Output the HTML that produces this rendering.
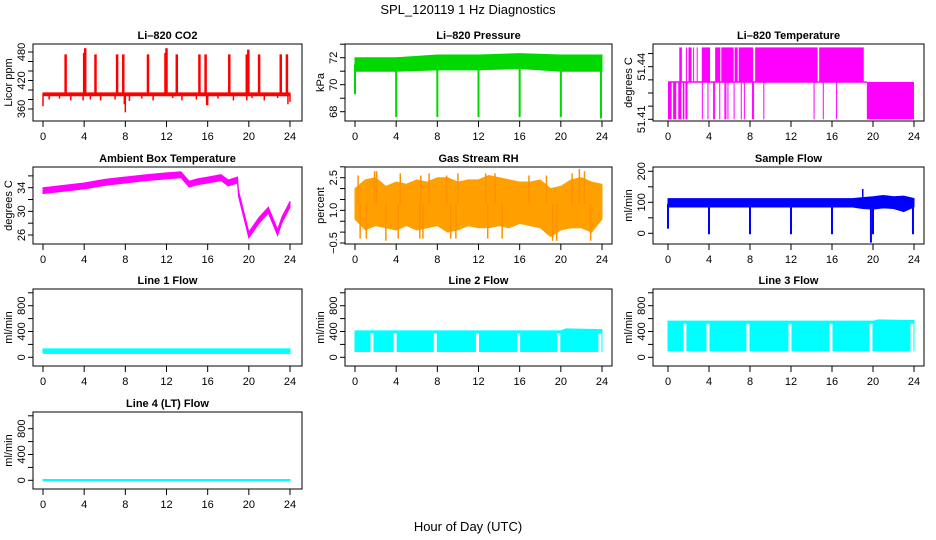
<!DOCTYPE html>
<html><head><meta charset="utf-8"><style>
html,body{margin:0;padding:0;background:#fff;}
svg{display:block;font-family:"Liberation Sans",Arial,sans-serif;}
</style></head><body>
<svg id="fig" width="936" height="540" viewBox="0 0 936 540" xmlns="http://www.w3.org/2000/svg">
<rect x="0" y="0" width="936" height="540" fill="#fff"/>
<text x="468" y="14" font-size="13" text-anchor="middle">SPL_120119  1 Hz Diagnostics</text>
<text x="468" y="531" font-size="13" text-anchor="middle">Hour of Day (UTC)</text>
</svg>
<script>
// ---------- data ----------
const hourTicks=[0,4,8,12,16,20,24];
// CO2
const co2Lo=[388,388];const co2Hi=[394,394];const co2BandT=[0,24];
const co2UpT=[2.2,4.0,4.1,5.1,7.2,7.8,10.2,11.9,12.0,13.0,15.2,15.8,18.1,19.8,19.95,21.0,23.1,23.7];
const co2UpV=[475,478,488,475,475,475,475,478,488,475,475,475,475,475,485,475,475,475];
const co2DnT=[0,0.6,1.6,2.7,3.9,4.6,5.6,7.0,7.9,8.0,8.4,9.6,10.7,12.6,13.5,14.9,15.9,16.0,17.0,18.5,19.8,20.3,21.5,22.8,23.8,24.0];
const co2DnV=[366,380,382,378,378,380,378,380,370,353,377,382,378,383,378,380,368,368,382,378,378,383,378,383,370,375];
// Pressure
const presT=[0,4,8,12,16,20,24];
const presLo=[71.0,71.0,71.1,71.1,71.2,71.0,71.0];
const presHi=[72.0,72.0,72.2,72.2,72.3,72.2,72.2];
const presDnT=[0,4,8,12,16,20,23.9];
const presDnV=[69.3,67.6,67.6,67.6,67.6,67.6,67.5];
// Li-820 temperature (levels)
const tempLevels=[51.41,51.4313,51.451];
const tempUpStart=[1.1,1.75,2.0,2.45,2.8,3.3,4.6,5.2,6.5,6.9,8.5,14.75];
const tempUpEnd=[1.35,1.8,2.3,2.5,2.85,4.1,5.1,6.4,6.8,8.3,14.6,19.1];
const tempDnStart=[0,0.5,1.0,1.45,1.7,3.3,3.85,4.4,4.5,5.0,5.5,5.6,5.8,6.4,7.1,7.4,8.2,8.3,9.3,14.2,15.1,16.4,19.4];
const tempDnEnd=[0.35,0.8,1.3,1.6,1.9,3.3,3.85,4.4,4.5,5.0,5.5,5.6,5.8,6.4,7.1,7.4,8.2,8.3,9.3,14.2,15.1,16.4,24];
// Ambient box temperature
const ambT=[0,2,4,6,8,10,12,13.4,14.2,15,16,17.3,18,18.9,19.0,20,21,21.9,22.8,23.2,24];
const ambV=[33.5,33.9,34.3,34.9,35.3,35.7,36.0,36.2,34.6,35.0,35.3,35.7,34.8,35.3,33.0,26.0,28.5,30.2,26.4,28.5,31.2];
// Gas stream RH
const rhT=[0,1,2,3,4,5,6,7,8,9,10,11,12,13,14,15,16,17,18,19,20,21,22,23,24];
const rhHi=[2.0,2.4,2.5,2.1,2.3,2.2,2.4,2.3,2.5,2.5,2.3,2.4,2.4,2.6,2.5,2.4,2.3,2.3,2.4,2.0,2.1,2.4,2.5,2.3,2.2];
const rhLo=[0.6,0.1,0.3,0.2,0.1,0.3,0.1,0.2,0.3,0.0,0.1,0.3,0.2,0.2,0.3,0.2,0.4,0.3,0.2,-0.2,0.1,0.2,0.2,0.0,0.6];
const rhUpT=[0.3,1.9,2.1,4.4,6.4,7.2,8.9,10.0,12.7,13.6,16.9,18.6,21.1,21.8,22.3];
const rhUpV=[2.6,2.8,2.8,2.7,2.6,2.7,2.6,2.7,2.7,2.7,2.6,2.6,2.7,2.9,2.8];
const rhDnT=[0.5,1.1,3.0,4.2,6.3,6.6,9.3,9.8,12.9,14.3,19.2,19.6,22.9];
const rhDnV=[-0.3,-0.3,-0.4,-0.3,-0.3,-0.3,-0.3,-0.3,-0.3,-0.3,-0.4,-0.4,-0.4];
// Sample flow
const sfT=[0,18,19,20,21,22,23,24];
const sfHi=[112,112,115,118,122,118,120,112];
const sfLo=[85,85,80,78,82,80,70,85];
const sfDnT=[0,4,8,12,16,19.8,20,23.9];
const sfDnV=[15,-3,-3,-3,-3,-30,-3,-3];
const sfUpT=[19.0];const sfUpV=[143];
// Line flows
const flowGaps=[1.65,3.9,7.8,11.9,15.9,19.8,23.8];
const l1T=[0,24];const l1Lo=[60,60];const l1Hi=[130,130];
const l2T=[0,20,20.5,24];const l2Lo=[90,90,90,90];const l2Hi=[410,410,440,430];
const l3T=[0,20,20.5,24];const l3Lo=[100,100,100,100];const l3Hi=[560,560,580,570];
const l4T=[0,24];const l4Lo=[-8,-8];const l4Hi=[12,12];

// ---------- layout ----------
const NS="http://www.w3.org/2000/svg";
const svg=document.getElementById('fig');
const cols=[{b0:33,b1:302,h0:43,h24:290},{b0:345,b1:612,h0:355,h24:602},{b0:653,b1:924,h0:668,h24:914}];
const rowTop=[44,167,289,412];const PH=77;
function add(p,tag,a){const e=document.createElementNS(NS,tag);for(const k in a)e.setAttribute(k,a[k]);p.appendChild(e);return e;}
let clipN=0;
function panel(d){
  const c=cols[d.col],top=rowTop[d.row],bot=top+PH;
  const g=add(svg,'g',{});
  
  
  const sx=h=>c.h0+(h/24)*(c.h24-c.h0);
  const sy=v=>top+d.o0+(v-d.v0)*(d.o1-d.o0)/(d.v1-d.v0);
  const cid='clip'+(clipN++);
  const cp=add(g,'clipPath',{id:cid});add(cp,'rect',{x:c.b0,y:top,width:c.b1-c.b0,height:PH});
  const marks=add(g,'g',{'clip-path':'url(#'+cid+')'});
  
  
  const box=add(g,'rect',{x:c.b0,y:top,width:c.b1-c.b0,height:PH,fill:'none',stroke:'#000','stroke-width':1});
  
  
  const t=add(g,'text',{x:(c.b0+c.b1)/2,y:top-5,'font-size':11,'font-weight':'bold','text-anchor':'middle'});
  t.textContent=d.title;
  
  
  const yl=add(g,'text',{x:0,y:0,'font-size':11,'text-anchor':'middle',transform:`translate(${c.b0-21},${top+PH/2}) rotate(-90)`});
  yl.textContent=d.ylab;
  
  
  hourTicks.forEach(h=>{
    const ln=add(g,'line',{x1:sx(h),x2:sx(h),y1:bot,y2:bot+6,stroke:'#000'});
    
    
    const tx=add(g,'text',{x:sx(h),y:bot+19,'font-size':11,'text-anchor':'middle'});
    tx.textContent=String(h);
    
    
  });
  d.ticks.forEach(v=>{
    const y=sy(v);if(y<top-1||y>bot+1)return;
    const ln=add(g,'line',{x1:c.b0-5,x2:c.b0,y1:y,y2:y,stroke:'#000'});
    
    
  });
  d.labels.forEach((v,i)=>{
    const tx=add(g,'text',{x:0,y:0,'font-size':11,'text-anchor':'middle',transform:`translate(${c.b0-8},${sy(v)}) rotate(-90)`});
    tx.textContent=d.labelText?d.labelText[i]:String(v);
    
    
  });
  return {g:marks,sx,sy};
}
function band(P,T,lo,hi,fill,name){
  let pts=T.map((t,i)=>P.sx(t)+','+P.sy(hi[i]));
  for(let i=T.length-1;i>=0;i--)pts.push(P.sx(T[i])+','+P.sy(lo[i]));
  const e=add(P.g,'polygon',{points:pts.join(' '),fill:fill,stroke:fill,'stroke-width':1});
  
  
}
function spikes(P,T,V,base,col,w,name){
  T.forEach((t,i)=>{
    const e=add(P.g,'line',{x1:P.sx(t),x2:P.sx(t),y1:P.sy(base),y2:P.sy(V[i]),stroke:col,'stroke-width':w});
    
    
  });
}
function blocks(P,S,E,a,b,col,name){
  S.forEach((s,i)=>{
    const x0=P.sx(s),x1=Math.max(P.sx(E[i]),x0+1);
    const y0=Math.min(P.sy(a),P.sy(b)),y1=Math.max(P.sy(a),P.sy(b));
    const e=add(P.g,'rect',{x:x0,y:y0,width:x1-x0,height:y1-y0,fill:col});
    
    
  });
}
function gaps(P,G,lo,hi,name){
  G.forEach(t=>{
    const e=add(P.g,'line',{x1:P.sx(t),x2:P.sx(t),y1:P.sy(hi),y2:P.sy(lo)+1,stroke:'#fff','stroke-width':3});
    
    
  });
}

// CO2
let P=panel({name:'co2-panel',col:0,row:0,title:'Li\u2013820 CO2',ylab:'Licor ppm',v0:360,o0:65,v1:480,o1:8,ticks:[360,380,400,420,440,460,480],labels:[360,420,480]});
band(P,co2BandT,co2Lo,co2Hi,'#ff0000','co2-band');
spikes(P,co2UpT,co2UpV,391,'#ff0000',2.5,'co2-spike-up');
spikes(P,co2DnT,co2DnV,391,'#ff0000',1.5,'co2-spike-down');
// Pressure
P=panel({name:'pressure-panel',col:1,row:0,title:'Li\u2013820 Pressure',ylab:'kPa',v0:68,o0:67.7,v1:72,o1:13.7,ticks:[68,69,70,71,72,73],labels:[68,70,72]});
band(P,presT,presLo,presHi,'#00d800','pressure-band');
spikes(P,presDnT,presDnV,71.5,'#00d800',2,'pressure-spike');
// Temperature
P=panel({name:'licor-temperature-panel',col:2,row:0,title:'Li\u2013820 Temperature',ylab:'degrees C',v0:51.41,o0:75.3,v1:51.44,o1:22.7,ticks:[51.41,51.4175,51.425,51.4325,51.44,51.4475],labels:[51.41,51.44],labelText:['51.41','51.44']});
{const l=add(P.g,'line',{x1:P.sx(0),x2:P.sx(19.4),y1:P.sy(tempLevels[1]),y2:P.sy(tempLevels[1]),stroke:'#ff00ff','stroke-width':1.5});

}
blocks(P,tempUpStart,tempUpEnd,tempLevels[1],tempLevels[2],'#ff00ff','temperature-up');
blocks(P,tempDnStart,tempDnEnd,tempLevels[0],tempLevels[1],'#ff00ff','temperature-down');
// Ambient
P=panel({name:'ambient-temperature-panel',col:0,row:1,title:'Ambient Box Temperature',ylab:'degrees C',v0:34,o0:20.7,v1:26,o1:68,ticks:[26,28,30,32,34,36],labels:[26,30,34]});
band(P,ambT,ambV.map(v=>v-0.5),ambV.map(v=>v+0.5),'#ff00ff','ambient-band');
// RH
P=panel({name:'rh-panel',col:1,row:1,title:'Gas Stream RH',ylab:'percent',v0:-0.5,o0:76,v1:2.5,o1:10.7,ticks:[-0.5,0,0.5,1,1.5,2,2.5,3],labels:[-0.5,1.0,2.5],labelText:['\u22120.5','1.0','2.5']});
band(P,rhT,rhLo,rhHi,'#ffa000','rh-band');
spikes(P,rhUpT,rhUpV,1.3,'#ff9000',1.5,'rh-spike-up');
spikes(P,rhDnT,rhDnV,1.3,'#ff9000',1.5,'rh-spike-down');
// Sample flow
P=panel({name:'sample-flow-panel',col:2,row:1,title:'Sample Flow',ylab:'ml/min',v0:0,o0:66.3,v1:200,o1:4.3,ticks:[0,50,100,150,200],labels:[0,100,200]});
band(P,sfT,sfLo,sfHi,'#0000ff','sample-flow-band');
spikes(P,sfDnT,sfDnV,95,'#0000ff',2,'sample-flow-spike-down');
spikes(P,sfUpT,sfUpV,95,'#0000ff',1.5,'sample-flow-spike-up');
// Line flows
const fl={v0:0,o0:68.3,v1:800,o1:16.7,ticks:[0,200,400,600,800,1000],labels:[0,400,800]};
P=panel(Object.assign({name:'line1-flow-panel',col:0,row:2,title:'Line 1 Flow',ylab:'ml/min'},fl));
band(P,l1T,l1Lo,l1Hi,'#00ffff','line1-band');
P=panel(Object.assign({name:'line2-flow-panel',col:1,row:2,title:'Line 2 Flow',ylab:'ml/min'},fl));
band(P,l2T,l2Lo,l2Hi,'#00ffff','line2-band');
gaps(P,flowGaps,90,370,'line2-gap');
P=panel(Object.assign({name:'line3-flow-panel',col:2,row:2,title:'Line 3 Flow',ylab:'ml/min'},fl));
band(P,l3T,l3Lo,l3Hi,'#00ffff','line3-band');
gaps(P,flowGaps,100,520,'line3-gap');
P=panel(Object.assign({name:'line4-flow-panel',col:0,row:3,title:'Line 4 (LT) Flow',ylab:'ml/min'},fl));
band(P,l4T,l4Lo,l4Hi,'#00ffff','line4-band');
</script>
</body></html>
